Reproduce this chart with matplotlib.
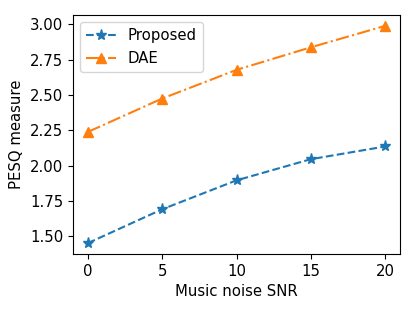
import matplotlib
matplotlib.use("Agg")
import matplotlib.pyplot as plt

snr = [0, 5, 10, 15, 20]
proposed = [1.45, 1.69, 1.895, 2.045, 2.135]
dae = [2.238, 2.475, 2.678, 2.838, 2.99]

plt.rcParams['font.size'] = 10.7
fig = plt.figure(figsize=(4.15, 3.09), dpi=100)
ax = fig.add_axes([73/415, 1-254/309, (400-73)/415, (254-15)/309])
ax.plot(snr, proposed, '--', marker='*', markersize=8, label='Proposed')
ax.plot(snr, dae, '-.', marker='^', markersize=7.5, label='DAE')
ax.set_xlabel('Music noise SNR')
ax.set_ylabel('PESQ measure')
ax.set_xticks([0, 5, 10, 15, 20])
ax.set_yticks([1.5, 1.75, 2.0, 2.25, 2.5, 2.75, 3.0])
ax.legend(loc='upper left')
fig.savefig('out.png', dpi=100)
